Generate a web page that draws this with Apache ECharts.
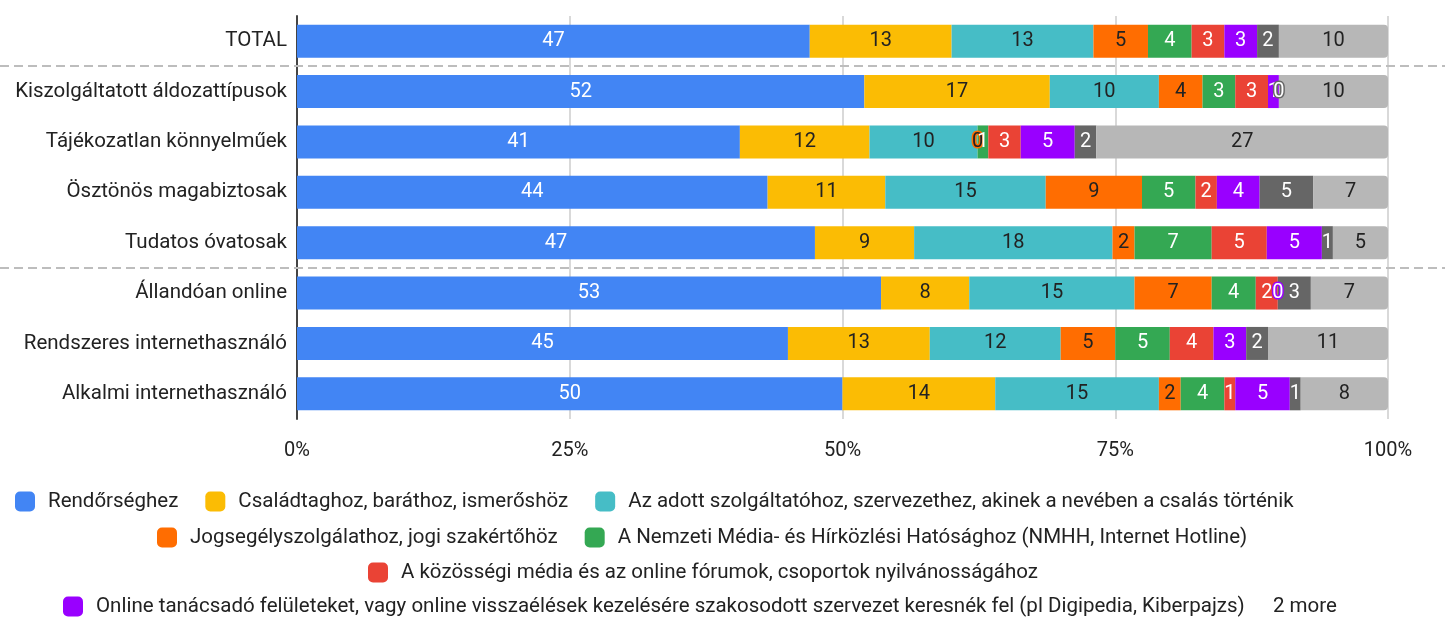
<!DOCTYPE html>
<html>
<head>
<meta charset="utf-8">
<style>
  html, body { margin: 0; padding: 0; background: #fff; }
  #chart { width: 1445px; height: 619px; }
</style>
<script src="https://cdn.jsdelivr.net/npm/echarts@6/dist/echarts.min.js"></script>
</head>
<body>
<div id="chart"></div>
<script>
// categories (top to bottom)
const categories = [
  'TOTAL',
  'Kiszolgáltatott áldozattípusok',
  'Tájékozatlan könnyelműek',
  'Ösztönös magabiztosak',
  'Tudatos óvatosak',
  'Állandóan online',
  'Rendszeres internethasználó',
  'Alkalmi internethasználó'
];

const seriesNames = [
  'Rendőrséghez',
  'Családtaghoz, baráthoz, ismerőshöz',
  'Az adott szolgáltatóhoz, szervezethez, akinek a nevében a csalás történik',
  'Jogsegélyszolgálathoz, jogi szakértőhöz',
  'A Nemzeti Média- és Hírközlési Hatósághoz (NMHH, Internet Hotline)',
  'A közösségi média és az online fórumok, csoportok nyilvánosságához',
  'Online tanácsadó felületeket, vagy online visszaélések kezelésére szakosodott szervezet keresnék fel (pl Digipedia, Kiberpajzs)',
  'Egyéb',
  'Nem tudom'
];

// raw values per series, one entry per category
const rendorseg   = [47, 52, 41, 44, 47, 53, 45, 50];
const csalad      = [13, 17, 12, 11,  9,  8, 13, 14];
const szolgaltato = [13, 10, 10, 15, 18, 15, 12, 15];
const jogseged    = [ 5,  4,  0,  9,  2,  7,  5,  2];
const nmhh        = [ 4,  3,  1,  5,  7,  4,  5,  4];
const kozossegi   = [ 3,  3,  3,  2,  5,  2,  4,  1];
const online      = [ 3,  1,  5,  4,  5,  0,  3,  5];
const egyeb       = [ 2,  0,  2,  5,  1,  3,  2,  1];
const nemTudom    = [10, 10, 27,  7,  5,  7, 11,  8];

const xTicks = ['0%', '25%', '50%', '75%', '100%'];

const allValues = [rendorseg, csalad, szolgaltato, jogseged, nmhh, kozossegi, online, egyeb, nemTudom];
const colors = ['#4285F4', '#FBBC04', '#46BDC6', '#FF6D01', '#34A853', '#EA4335', '#9900FF', '#666666', '#B7B7B7'];
const labelColors = ['#fff', '#222', '#222', '#222', '#fff', '#fff', '#fff', '#fff', '#222'];

// row totals -> 100% stacked
const rowSums = categories.map((c, i) => allValues.reduce((s, arr) => s + arr[i], 0));

const series = allValues.map((arr, si) => ({
  name: seriesNames[si],
  type: 'bar',
  stack: 'all',
  barWidth: 33,
  itemStyle: {
    color: colors[si],
    borderRadius: si === allValues.length - 1 ? [0, 4, 4, 0] : 0
  },
  label: {
    show: true,
    position: 'inside',
    color: labelColors[si],
    fontFamily: 'Roboto',
    fontSize: 20,
    formatter: p => p.data.raw
  },
  data: arr.map((v, i) => {
    let item = { value: v / rowSums[i] * 100, raw: v };
    if (v === 0) {
      item.label = { textBorderColor: colors[si], textBorderWidth: 3 };
    }
    return item;
  })
}));

const legendText = { fontFamily: 'Roboto', fontSize: 20.5, color: '#222', padding: [0, 0, 0, 8] };
const legendBase = {
  orient: 'horizontal',
  icon: 'roundRect',
  padding: 0,
  itemWidth: 20,
  itemHeight: 20,
  itemGap: 27,
  textStyle: legendText
};

let chart = echarts.init(document.getElementById('chart'));
let option = {
  animation: false,
  color: colors,
  grid: { left: 297, right: 57, top: 16, height: 403 },
  xAxis: {
    type: 'value',
    min: 0,
    max: 100,
    interval: 25,
    axisLine: { show: false },
    axisTick: { show: false },
    splitLine: { lineStyle: { color: '#cccccc', width: 1.5 } },
    axisLabel: {
      margin: 22,
      fontFamily: 'Roboto',
      fontSize: 20,
      color: '#222',
      formatter: v => xTicks[v / 25]
    }
  },
  yAxis: {
    type: 'category',
    inverse: true,
    data: categories,
    axisTick: { show: false },
    axisLine: { lineStyle: { color: '#444', width: 2 } },
    axisLabel: { margin: 10, fontFamily: 'Roboto', fontSize: 20.5, color: '#222' }
  },
  legend: [
    Object.assign({}, legendBase, { left: 15, top: 491, data: seriesNames.slice(0, 3) }),
    Object.assign({}, legendBase, { left: 157, top: 527, data: seriesNames.slice(3, 5) }),
    Object.assign({}, legendBase, { left: 368, top: 562, data: seriesNames.slice(5, 6) }),
    Object.assign({}, legendBase, { left: 63, top: 596, data: seriesNames.slice(6, 7) })
  ],
  series: series
};
chart.setOption(option);

// dashed separators between groups, placed through the category scale
function sepY(a, b) {
  let ya = chart.convertToPixel({ yAxisIndex: 0 }, categories[a]);
  let yb = chart.convertToPixel({ yAxisIndex: 0 }, categories[b]);
  return Math.round((ya + yb) / 2);
}
const dash = { stroke: '#bdbdbd', lineWidth: 2, lineDash: [9, 5] };
chart.setOption({
  graphic: [
    { type: 'line', z: 10, shape: { x1: 0, y1: sepY(0, 1), x2: 1445, y2: sepY(0, 1) }, style: dash },
    { type: 'line', z: 10, shape: { x1: 0, y1: sepY(4, 5), x2: 1445, y2: sepY(4, 5) }, style: dash },
    { type: 'text', left: 1273, top: 596, style: { text: '2 more', font: '20.5px Roboto', fill: '#222' } }
  ]
});

window.addEventListener('resize', function () { chart.resize(); });
</script>
</body>
</html>
